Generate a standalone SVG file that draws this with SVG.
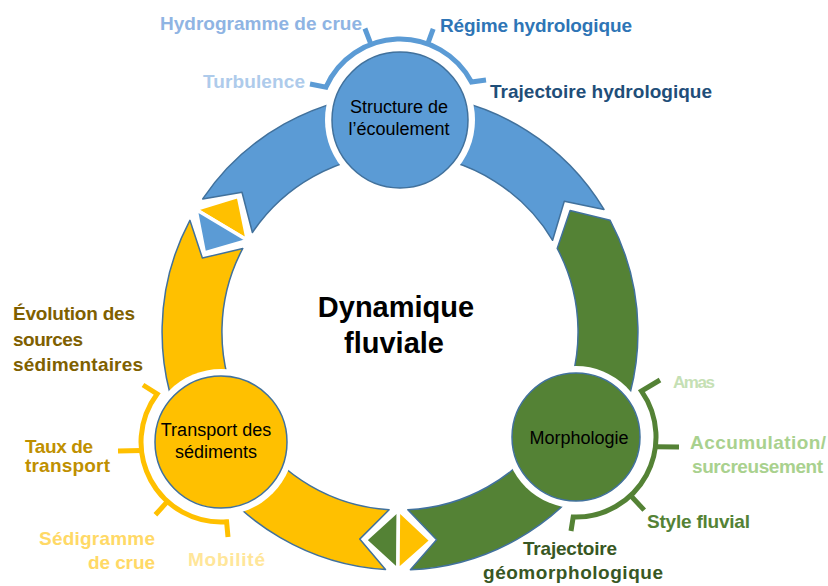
<svg xmlns="http://www.w3.org/2000/svg" width="828" height="586" viewBox="0 0 828 586">
<style>
 .lbl{font-family:"Liberation Sans",Arial,sans-serif;font-weight:bold;font-size:19px}
 .nl{font-family:"Liberation Sans",Arial,sans-serif;font-size:18px;fill:#000;text-anchor:middle}
 .seg{stroke:#41719c;stroke-width:1.5;stroke-linejoin:round}
 .tri{stroke:#fff;stroke-width:3.5;stroke-linejoin:miter}
 .halo{fill:#fff}
 .node{stroke:#41719c;stroke-width:1.5}
 .br{fill:none;stroke-width:5;stroke-linejoin:miter}
 .title{font-family:"Liberation Sans",Arial,sans-serif;font-weight:bold;font-size:29px;fill:#000;text-anchor:middle}
</style>
<rect width="828" height="586" fill="#fff"/>
<g id="connectors">
 <path class="seg" fill="#5b9bd5" d="M202.7,198.9 A238,238 0 0 1 604.0,209.4 L564.3,201.3 L552.6,240.3 A178,178 0 0 0 252.4,232.5 L242.0,192.2 Z"/>
 <path class="seg" fill="#548235" d="M610.1,220.3 A238,238 0 0 1 410.4,569.8 L436.6,539.8 L407.8,509.8 A178,178 0 0 0 557.2,248.4 L570.1,210.6 Z"/>
 <path class="seg" fill="#ffc000" d="M385.5,569.5 A238,238 0 0 1 189.9,220.3 L202.4,258.1 L242.8,248.4 A178,178 0 0 0 389.1,509.7 L359.7,539.1 Z"/>
 <g id="junction-bottom" transform="rotate(90.5 400 332)">
  <polygon class="tri" fill="#548235" points="578,332 638,332 608.4,365"/>
  <polygon class="tri" fill="#ffc000" points="578,332 638,332 608.4,299"/>
 </g>
 <g id="junction-left" transform="rotate(211 400 332)">
  <polygon class="tri" fill="#ffc000" points="578,332 638,332 608.4,365"/>
  <polygon class="tri" fill="#5b9bd5" points="578,332 638,332 608.4,299"/>
 </g>
</g>
<g id="center-title">
 <text class="title" x="396" y="317">Dynamique</text>
 <text class="title" x="394" y="353">fluviale</text>
</g>
<g id="node-flow">
 <circle class="halo" cx="400" cy="120" r="75"/>
 <circle class="node" cx="400" cy="120" r="68" fill="#5b9bd5"/>
 <text class="nl" x="399" y="113">Structure de</text>
 <text class="nl" x="399" y="135">l’écoulement</text>
 <path class="br" stroke="#5b9bd5" d="M310,84 L326,87.1 A81,81 0 0 1 471.5,82 L486,80"/>
 <path class="br" stroke="#5b9bd5" d="M371,44.4 L364.9,28.5 M427.7,43.9 L433.2,28.8"/>
 <text class="lbl" x="160" y="30" fill="#8fb4e3" textLength="202">Hydrogramme de crue</text>
 <text class="lbl" x="440" y="32" fill="#2e75b6" textLength="192">Régime hydrologique</text>
 <text class="lbl" x="203" y="88" fill="#aecbeb" textLength="102">Turbulence</text>
 <text class="lbl" x="490" y="98" fill="#1f4e79" textLength="222">Trajectoire hydrologique</text>
</g>
<g id="node-morphology">
 <circle class="halo" cx="576" cy="437" r="71"/>
 <circle class="node" cx="576" cy="437" r="64" fill="#548235"/>
 <text class="nl" x="579" y="444">Morphologie</text>
 <path class="br" stroke="#548235" d="M660,380 L641.5,391.1 A80,80 0 0 1 573.2,517 L571,531"/>
 <path class="br" stroke="#548235" d="M655.4,446.8 L679,447 M630.6,495.5 L644.2,510.1"/>
 <text class="lbl" x="673" y="388" fill="#c5e0b4" style="font-size:17px" textLength="42">Amas</text>
 <text class="lbl" x="690" y="449" fill="#a9d18e" textLength="136">Accumulation/</text>
 <text class="lbl" x="692" y="473" fill="#a9d18e" textLength="131">surcreusement</text>
 <text class="lbl" x="647" y="528" fill="#548235" textLength="103">Style fluvial</text>
 <text class="lbl" x="523" y="555" fill="#385723" textLength="94">Trajectoire</text>
 <text class="lbl" x="483" y="579" fill="#385723" textLength="180">géomorphologique</text>
</g>
<g id="node-transport">
 <circle class="halo" cx="221" cy="442" r="73"/>
 <circle class="node" cx="221" cy="442" r="66" fill="#ffc000"/>
 <text class="nl" x="216" y="436">Transport des</text>
 <text class="nl" x="216" y="458">sédiments</text>
 <path class="br" stroke="#ffc000" d="M143,385 L157.1,393.9 A80,80 0 0 0 226.6,521.8 L228,537"/>
 <path class="br" stroke="#ffc000" d="M141.4,450.4 L118,451 M167.5,501.4 L155.4,514.8"/>
 <text class="lbl" x="13" y="320" fill="#7f6000" textLength="122">Évolution des</text>
 <text class="lbl" x="13" y="346" fill="#7f6000" textLength="70">sources</text>
 <text class="lbl" x="13" y="371" fill="#7f6000" textLength="130">sédimentaires</text>
 <text class="lbl" x="25" y="453" fill="#bf9000" textLength="68">Taux de</text>
 <text class="lbl" x="25" y="472" fill="#bf9000" textLength="85">transport</text>
 <text class="lbl" x="155" y="545" fill="#ffd966" text-anchor="end" textLength="116">Sédigramme</text>
 <text class="lbl" x="155" y="569" fill="#ffd966" text-anchor="end" textLength="67">de crue</text>
 <text class="lbl" x="188" y="566" fill="#ffe699" textLength="77">Mobilité</text>
</g>
</svg>
